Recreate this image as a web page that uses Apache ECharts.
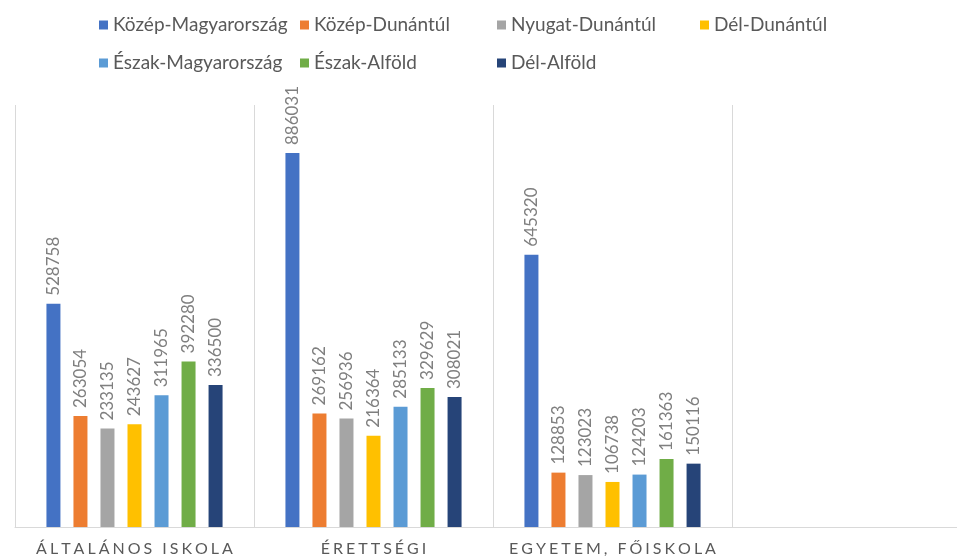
<!DOCTYPE html>
<html>
<head>
<meta charset="utf-8">
<script src="https://cdn.jsdelivr.net/npm/echarts@6/dist/echarts.min.js"></script>
<style>
  html, body { margin: 0; padding: 0; background: #fff; overflow: hidden; }
  /* wider than the window: the 4th (empty) category is cut off on the right */
  #chart { width: 971px; height: 557px; }
</style>
</head>
<body>
<div id="chart"></div>
<script>
// categories (the 4th slot is empty in the original)
const categories = ['ÁLTALÁNOS ISKOLA', 'ÉRETTSÉGI', 'EGYETEM, FŐISKOLA', ''];

const regions = ['Közép-Magyarország', 'Közép-Dunántúl', 'Nyugat-Dunántúl', 'Dél-Dunántúl',
  'Észak-Magyarország', 'Észak-Alföld', 'Dél-Alföld'];

const kozepMagyarorszag = [528758, 886031, 645320, null];
const kozepDunantul = [263054, 269162, 128853, null];
const nyugatDunantul = [233135, 256936, 123023, null];
const delDunantul = [243627, 216364, 106738, null];
const eszakMagyarorszag = [311965, 285133, 124203, null];
const eszakAlfold = [392280, 329629, 161363, null];
const delAlfold = [336500, 308021, 150116, null];

const seriesData = [kozepMagyarorszag, kozepDunantul, nyugatDunantul, delDunantul,
  eszakMagyarorszag, eszakAlfold, delAlfold];

const colors = ['#4472C4', '#ED7D31', '#A5A5A5', '#FFC000', '#5B9BD5', '#70AD47', '#264478'];

const FONT = 'Lato, "Open Sans", sans-serif';

var chart = echarts.init(document.getElementById('chart'));

// legend laid out in fixed columns, like the excel one
function legendCol(names, left) {
  return {
    orient: 'vertical',
    left: left,
    top: 9,
    itemWidth: 9,
    itemHeight: 9,
    itemGap: 16,
    icon: 'rect',
    data: names,
    textStyle: { fontFamily: FONT, fontSize: 19, lineHeight: 22, color: '#595959' }
  };
}

var option = {
  color: colors,
  animation: false,
  legend: [
    legendCol([regions[0], regions[4]], 94),
    legendCol([regions[1], regions[5]], 295),
    legendCol([regions[2], regions[6]], 492),
    legendCol([regions[3]], 695)
  ],
  grid: { left: 15, right: 0, top: 105, bottom: 30 },
  xAxis: {
    type: 'category',
    data: categories,
    axisTick: { show: false },
    axisLine: { lineStyle: { color: '#d9d9d9', width: 1 } },
    splitLine: { show: true, interval: 0, lineStyle: { color: '#d9d9d9', width: 1 } },
    axisLabel: {
      interval: 0,
      margin: 14,
      fontFamily: FONT,
      fontSize: 16,
      color: '#595959',
      formatter: function (v) { return v.split('').join('\u2009\u200A'); }
    }
  },
  yAxis: {
    type: 'value',
    min: 0,
    max: 1000000,
    show: false
  },
  series: seriesData.map(function (d, i) {
    return {
      name: regions[i],
      type: 'bar',
      data: d,
      barWidth: 14,
      barGap: '93%',
      label: {
        show: true,
        position: 'top',
        rotate: 90,
        align: 'left',
        verticalAlign: 'middle',
        distance: 8,
        fontFamily: FONT,
        fontSize: 17,
        color: '#7f7f7f'
      }
    };
  })
};

chart.setOption(option);
</script>
</body>
</html>
